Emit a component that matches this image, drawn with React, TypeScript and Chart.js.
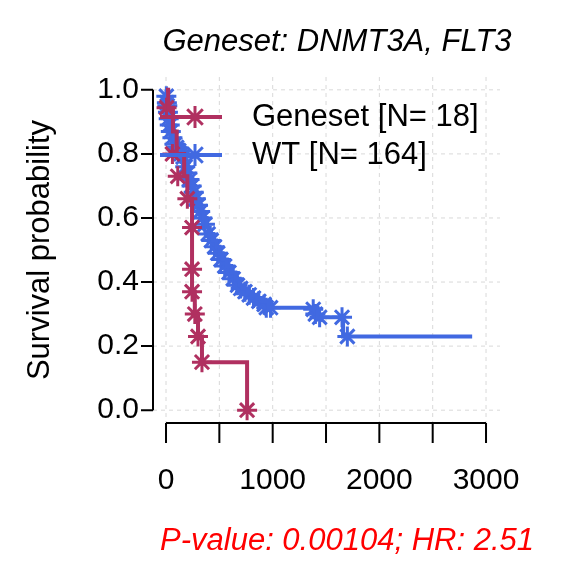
import { useEffect, useRef } from "react";
import { Chart, registerables } from "chart.js";

Chart.register(...registerables);

const RED = "#B03060";
const BLUE = "#4169E1";
const FONT = "'Liberation Sans', Arial, sans-serif";

const titleText = "Geneset: DNMT3A, FLT3";
const footText = "P-value: 0.00104; HR: 2.51";
const yLabel = "Survival probability";
const legendLabels = ["Geneset [N= 18]", "WT [N= 164]"];
const xTicks = [0, 500, 1000, 1500, 2000, 2500, 3000];
const xTickLabels = ["0", "", "1000", "", "2000", "", "3000"];
const yTicks = [0, 0.2, 0.4, 0.6, 0.8, 1.0];
const yTickLabels = ["0.0", "0.2", "0.4", "0.6", "0.8", "1.0"];

// Geneset KM curve
const redT = [0, 20, 65, 100, 170, 200, 244, 270, 300, 337, 760];
const redS = [1, 0.944, 0.87, 0.8, 0.73, 0.66, 0.37, 0.3, 0.23, 0.15, 0];
const redCensT = [5, 60, 110, 200, 244, 244, 244, 270, 300, 337, 760];
const redCensS = [0.944, 0.8, 0.73, 0.66, 0.57, 0.44, 0.37, 0.3, 0.23, 0.15, 0];

// WT KM curve
const blueT = [0, 5, 10, 15, 20, 30, 40, 55, 70, 90, 110, 130, 150, 170, 190, 210, 230, 250, 270, 290, 310, 330, 350, 380, 410, 440, 470, 500, 530, 570, 610, 650, 690, 720, 760, 800, 850, 900, 960, 1420, 1660, 2870];
const blueS = [1.0, 0.98, 0.96, 0.95, 0.93, 0.91, 0.89, 0.87, 0.85, 0.83, 0.82, 0.81, 0.8, 0.78, 0.76, 0.74, 0.72, 0.7, 0.68, 0.66, 0.64, 0.62, 0.6, 0.57, 0.55, 0.53, 0.51, 0.49, 0.47, 0.45, 0.43, 0.41, 0.39, 0.38, 0.37, 0.36, 0.35, 0.34, 0.32, 0.29, 0.23, 0.23];
const blueCensT = [3, 8, 12, 18, 25, 35, 45, 60, 80, 100, 120, 140, 160, 180, 200, 220, 240, 260, 280, 300, 320, 340, 365, 395, 425, 455, 485, 515, 550, 590, 630, 670, 700, 740, 780, 820, 870, 920, 940, 980, 1380, 1400, 1440, 1650, 1700];
const blueCensS = [0.98, 0.96, 0.95, 0.93, 0.91, 0.89, 0.87, 0.85, 0.83, 0.82, 0.81, 0.8, 0.79, 0.76, 0.74, 0.72, 0.7, 0.68, 0.66, 0.64, 0.62, 0.6, 0.58, 0.55, 0.53, 0.51, 0.49, 0.47, 0.45, 0.43, 0.41, 0.39, 0.38, 0.37, 0.36, 0.35, 0.34, 0.33, 0.32, 0.32, 0.315, 0.3, 0.29, 0.29, 0.23];

const toPts = (t: number[], s: number[]) => t.map((x, i) => ({ x, y: s[i] }));

export default function App() {
  const ref = useRef<HTMLCanvasElement | null>(null);

  useEffect(() => {
    document.body.style.margin = "0";
    if (!ref.current) return;

    const decor = {
      id: "decor",
      beforeDatasetsDraw(chart: any) {
        const { ctx } = chart;
        const xs = chart.scales.x;
        const ys = chart.scales.y;
        const area = chart.chartArea;
        ctx.save();
        ctx.strokeStyle = "#d9d9d9";
        ctx.lineWidth = 1;
        ctx.setLineDash([4, 4]);
        xTicks.forEach((v) => {
          const px = xs.getPixelForValue(v);
          ctx.beginPath();
          ctx.moveTo(px, area.top);
          ctx.lineTo(px, area.bottom);
          ctx.stroke();
        });
        yTicks.forEach((v) => {
          const py = ys.getPixelForValue(v);
          ctx.beginPath();
          ctx.moveTo(area.left, py);
          ctx.lineTo(area.right, py);
          ctx.stroke();
        });
        ctx.restore();
      },
      afterDraw(chart: any) {
        const { ctx } = chart;
        const xs = chart.scales.x;
        const ys = chart.scales.y;
        const area = chart.chartArea;
        ctx.save();
        ctx.strokeStyle = "#000";
        ctx.fillStyle = "#000";
        ctx.lineWidth = 2;
        // x axis
        const x0 = xs.getPixelForValue(xTicks[0]);
        const x1 = xs.getPixelForValue(xTicks[xTicks.length - 1]);
        ctx.beginPath();
        ctx.moveTo(x0, area.bottom);
        ctx.lineTo(x1, area.bottom);
        xTicks.forEach((v) => {
          const px = xs.getPixelForValue(v);
          ctx.moveTo(px, area.bottom);
          ctx.lineTo(px, area.bottom + 20);
        });
        ctx.stroke();
        ctx.font = `30px ${FONT}`;
        ctx.textAlign = "center";
        ctx.textBaseline = "middle";
        xTicks.forEach((v, i) => {
          if (xTickLabels[i]) ctx.fillText(xTickLabels[i], xs.getPixelForValue(v), 481);
        });
        // y axis
        const y0 = ys.getPixelForValue(yTicks[0]);
        const y1 = ys.getPixelForValue(yTicks[yTicks.length - 1]);
        ctx.beginPath();
        ctx.moveTo(area.left, y0);
        ctx.lineTo(area.left, y1);
        yTicks.forEach((v) => {
          const py = ys.getPixelForValue(v);
          ctx.moveTo(area.left, py);
          ctx.lineTo(area.left - 12, py);
        });
        ctx.stroke();
        ctx.textAlign = "right";
        yTicks.forEach((v, i) => ctx.fillText(yTickLabels[i], 139, ys.getPixelForValue(v)));
        // y label
        ctx.save();
        ctx.translate(40, 250);
        ctx.rotate(-Math.PI / 2);
        ctx.textAlign = "center";
        ctx.font = `31px ${FONT}`;
        ctx.fillText(yLabel, 0, 0);
        ctx.restore();
        // title & footer
        ctx.textAlign = "center";
        ctx.font = `italic 31px ${FONT}`;
        ctx.fillText(titleText, 337, 42);
        ctx.fillStyle = "#FF0000";
        ctx.fillText(footText, 347, 541);
        // legend
        const cols = [RED, BLUE];
        ctx.font = `31px ${FONT}`;
        ctx.textAlign = "left";
        legendLabels.forEach((lab, i) => {
          const y = 117 + i * 38;
          ctx.strokeStyle = cols[i];
          ctx.lineWidth = 4;
          ctx.beginPath();
          ctx.moveTo(160, y);
          ctx.lineTo(222, y);
          ctx.stroke();
          ctx.lineWidth = 3;
          ctx.beginPath();
          const r = 11;
          ctx.moveTo(195 - r, y);
          ctx.lineTo(195 + r, y);
          ctx.moveTo(195, y - r);
          ctx.lineTo(195, y + r);
          const d = r * 0.707;
          ctx.moveTo(195 - d, y - d);
          ctx.lineTo(195 + d, y + d);
          ctx.moveTo(195 - d, y + d);
          ctx.lineTo(195 + d, y - d);
          ctx.stroke();
          ctx.fillStyle = "#000";
          ctx.fillText(lab, 252, y);
        });
        ctx.restore();
      },
    };

    const chart = new Chart(ref.current, {
      type: "line",
      data: {
        datasets: [
          {
            label: "Geneset",
            data: toPts(redT, redS),
            borderColor: RED,
            borderWidth: 4,
            stepped: "before",
            pointRadius: 0,
            fill: false,
          },
          {
            label: "Geneset censored",
            data: toPts(redCensT, redCensS),
            showLine: false,
            pointStyle: "star",
            pointRadius: 10,
            borderColor: RED,
            borderWidth: 3,
          },
          {
            label: "WT",
            data: toPts(blueT, blueS),
            borderColor: BLUE,
            borderWidth: 4,
            stepped: "before",
            pointRadius: 0,
            fill: false,
          },
          {
            label: "WT censored",
            data: toPts(blueCensT, blueCensS),
            showLine: false,
            pointStyle: "star",
            pointRadius: 10,
            borderColor: BLUE,
            borderWidth: 3,
          },
        ],
      },
      options: {
        animation: false,
        responsive: true,
        maintainAspectRatio: false,
        layout: { padding: { left: 153, right: 76, top: 77, bottom: 153 } },
        plugins: { legend: { display: false }, tooltip: { enabled: false } },
        scales: {
          x: { type: "linear", min: -122, max: 3131, display: false },
          y: { type: "linear", min: -0.04, max: 1.04, display: false },
        },
      },
      plugins: [decor],
    });

    return () => chart.destroy();
  }, []);

  return (
    <div style={{ width: 576, height: 576, background: "#fff" }}>
      <canvas ref={ref} />
    </div>
  );
}
